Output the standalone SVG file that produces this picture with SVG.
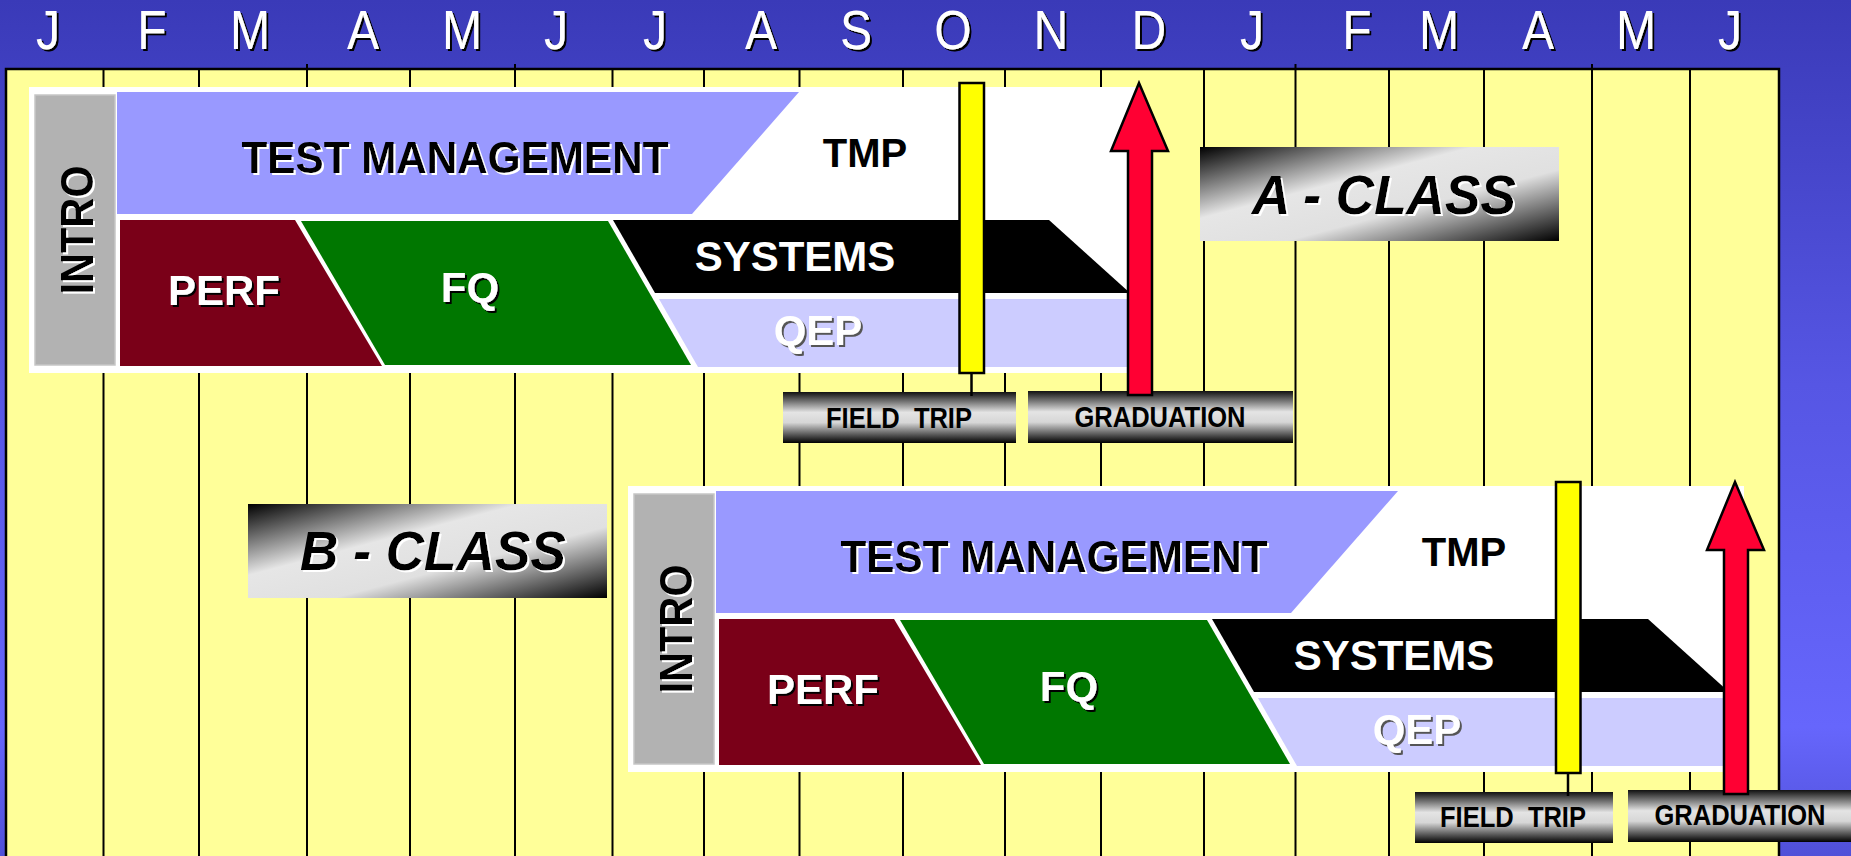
<svg xmlns="http://www.w3.org/2000/svg" width="1851" height="856" viewBox="0 0 1851 856">
  <defs>
    <linearGradient id="bg" x1="0" y1="0" x2="0" y2="1">
      <stop offset="0" stop-color="#3a3ab8"/>
      <stop offset="0.45" stop-color="#5656e4"/>
      <stop offset="0.85" stop-color="#6666fc"/>
      <stop offset="1" stop-color="#5050d8"/>
    </linearGradient>
    <!-- cylinder shading for the event tabs -->
    <linearGradient id="tab" x1="0" y1="0" x2="0" y2="1">
      <stop offset="0" stop-color="#111"/>
      <stop offset="0.4" stop-color="#e4e4e4"/>
      <stop offset="0.6" stop-color="#d6d6d6"/>
      <stop offset="1" stop-color="#000"/>
    </linearGradient>
    <!-- diagonal sheen for the class plates -->
    <linearGradient id="plate" x1="0" y1="0" x2="1" y2="1">
      <stop offset="0" stop-color="#000"/>
      <stop offset="0.38" stop-color="#e6e6e6"/>
      <stop offset="0.62" stop-color="#e0e0e0"/>
      <stop offset="1" stop-color="#000"/>
    </linearGradient>
    <filter id="shDark" x="-10%" y="-20%" width="130%" height="150%">
      <feDropShadow dx="2" dy="2" stdDeviation="0" flood-color="#000"/>
    </filter>
    <filter id="shGray" x="-10%" y="-20%" width="130%" height="150%">
      <feDropShadow dx="2" dy="2" stdDeviation="0" flood-color="#555"/>
    </filter>
    <filter id="shLight" x="-10%" y="-20%" width="130%" height="150%">
      <feDropShadow dx="2" dy="2" stdDeviation="0" flood-color="#fff"/>
    </filter>
  </defs>
  <style>
    text { font-family: "Liberation Sans", Arial, sans-serif; text-anchor: middle; }
    .month { font-size: 56px; fill: #fff; }
    .grid line { stroke: #000; stroke-width: 2; }
    .frame { fill: #fff; }
    .intro { fill: #b2b2b2; stroke: #c6c6c6; stroke-width: 1.5; }
    .tm { fill: #9999ff; }
    .perf { fill: #7a0018; }
    .fq { fill: #007700; }
    .sys { fill: #000; }
    .qep { fill: #ccccff; }
    .lbl { font-weight: bold; font-size: 42px; }
    .dark { fill: #000; }
    .light { fill: #fff; }
    .introtxt { font-weight: bold; font-size: 46px; fill: #000; }
    .bar { fill: #ffff00; stroke: #000; stroke-width: 2.5; }
    .arrow { fill: #ff0033; stroke: #000; stroke-width: 2.5; stroke-linejoin: miter; }
    .tab { fill: url(#tab); }
    .tabtxt { font-weight: bold; font-size: 29px; fill: #000; white-space: pre; }
    .plate { fill: url(#plate); }
    .platetxt { font-weight: bold; font-style: italic; font-size: 56px; fill: #000; }
    .stem { stroke: #000; stroke-width: 2.5; }
  </style>

  <!-- backdrop and calendar panel -->
  <rect x="0" y="0" width="1851" height="856" fill="url(#bg)"/>
  <rect x="6" y="69" width="1773" height="800" fill="#ffff99" stroke="#000" stroke-width="2.5"/>

  <g class="grid">
    <line x1="103.5" y1="69" x2="103.5" y2="856"/>
    <line x1="199" y1="69" x2="199" y2="856"/>
    <line x1="307" y1="64" x2="307" y2="856"/>
    <line x1="410" y1="69" x2="410" y2="856"/>
    <line x1="515" y1="64" x2="515" y2="856"/>
    <line x1="612.5" y1="69" x2="612.5" y2="856"/>
    <line x1="704" y1="69" x2="704" y2="856"/>
    <line x1="799.5" y1="69" x2="799.5" y2="856"/>
    <line x1="903" y1="69" x2="903" y2="856"/>
    <line x1="1005" y1="69" x2="1005" y2="856"/>
    <line x1="1101" y1="69" x2="1101" y2="856"/>
    <line x1="1204" y1="69" x2="1204" y2="856"/>
    <line x1="1295.5" y1="64" x2="1295.5" y2="856"/>
    <line x1="1389" y1="69" x2="1389" y2="856"/>
    <line x1="1484" y1="69" x2="1484" y2="856"/>
    <line x1="1592" y1="64" x2="1592" y2="856"/>
    <line x1="1690" y1="69" x2="1690" y2="856"/>
  </g>

  <!-- month header -->
  <g id="months" filter="url(#shDark)">
    <text class="month" transform="translate(48 49) scale(0.86 1)">J</text>
    <text class="month" transform="translate(152 49) scale(0.86 1)">F</text>
    <text class="month" transform="translate(250 49) scale(0.86 1)">M</text>
    <text class="month" transform="translate(363 49) scale(0.86 1)">A</text>
    <text class="month" transform="translate(462 49) scale(0.86 1)">M</text>
    <text class="month" transform="translate(556 49) scale(0.86 1)">J</text>
    <text class="month" transform="translate(655 49) scale(0.86 1)">J</text>
    <text class="month" transform="translate(761 49) scale(0.86 1)">A</text>
    <text class="month" transform="translate(856 49) scale(0.86 1)">S</text>
    <text class="month" transform="translate(953 49) scale(0.86 1)">O</text>
    <text class="month" transform="translate(1051 49) scale(0.86 1)">N</text>
    <text class="month" transform="translate(1149 49) scale(0.86 1)">D</text>
    <text class="month" transform="translate(1252 49) scale(0.86 1)">J</text>
    <text class="month" transform="translate(1357 49) scale(0.86 1)">F</text>
    <text class="month" transform="translate(1439 49) scale(0.86 1)">M</text>
    <text class="month" transform="translate(1538 49) scale(0.86 1)">A</text>
    <text class="month" transform="translate(1636 49) scale(0.86 1)">M</text>
    <text class="month" transform="translate(1730 49) scale(0.86 1)">J</text>
  </g>

  <!-- A class curriculum -->
  <g id="class-a">
    <g id="a-frame"><rect class="frame" x="29" y="87" width="1112" height="286"/></g>
    <g id="a-intro">
      <rect class="intro" x="35" y="95" width="80" height="270"/>
      <g filter="url(#shLight)"><text class="introtxt" transform="translate(93 230) rotate(-90) scale(0.9 1)">INTRO</text></g>
    </g>
    <g id="a-test-management">
      <polygon class="tm" points="117,92 799,92 692,214 117,214"/>
      <g filter="url(#shLight)"><text class="lbl dark" transform="translate(455 173) scale(0.96 1)" style="font-size:44px">TEST MANAGEMENT</text></g>
    </g>
    <g id="a-tmp"><text class="lbl dark" x="865" y="167" style="font-size:40px">TMP</text></g>
    <g id="a-perf">
      <polygon class="perf" points="120,220 295,220 382,366 120,366"/>
      <g filter="url(#shDark)"><text class="lbl light" x="224" y="305">PERF</text></g>
    </g>
    <g id="a-fq">
      <polygon class="fq" points="301,221 608,221 691,365 385,365"/>
      <g filter="url(#shDark)"><text class="lbl light" x="470" y="302">FQ</text></g>
    </g>
    <g id="a-systems">
      <polygon class="sys" points="613,220 1049,220 1130,293 655,293"/>
      <text class="lbl light" x="795" y="271">SYSTEMS</text>
    </g>
    <g id="a-qep">
      <polygon class="qep" points="659,299 1130,299 1130,367 698,367"/>
      <g filter="url(#shGray)"><text class="lbl light" x="818" y="345">QEP</text></g>
    </g>
    <g id="a-class-plate">
      <rect class="plate" x="1200" y="147" width="359" height="94"/>
      <g filter="url(#shLight)"><text class="platetxt" transform="translate(1384 214) scale(0.95 1)">A - CLASS</text></g>
    </g>
    <g id="a-field-trip-bar"><rect class="bar" x="959.5" y="83" width="24.5" height="290"/></g>
    <g id="a-field-trip">
      <rect class="tab" x="783" y="392" width="233" height="51"/>
      <text class="tabtxt" transform="translate(899 428) scale(0.88 1)">FIELD  TRIP</text>
    </g>
    <g id="a-graduation">
      <rect class="tab" x="1028" y="391" width="265" height="52"/>
      <text class="tabtxt" transform="translate(1160 427) scale(0.88 1)">GRADUATION</text>
    </g>
  </g>

  <!-- B class curriculum: same track layout, six months later -->
  <g id="class-b">
    <g transform="translate(599 399)">
      <g id="b-frame"><rect class="frame" x="29" y="87" width="1116" height="286"/></g>
      <g id="b-intro">
        <rect class="intro" x="35" y="95" width="80" height="270"/>
        <g filter="url(#shLight)"><text class="introtxt" transform="translate(93 230) rotate(-90) scale(0.9 1)">INTRO</text></g>
      </g>
      <g id="b-test-management">
        <polygon class="tm" points="117,92 799,92 692,214 117,214"/>
        <g filter="url(#shLight)"><text class="lbl dark" transform="translate(455 173) scale(0.96 1)" style="font-size:44px">TEST MANAGEMENT</text></g>
      </g>
      <g id="b-tmp"><text class="lbl dark" x="865" y="167" style="font-size:40px">TMP</text></g>
      <g id="b-perf">
        <polygon class="perf" points="120,220 295,220 382,366 120,366"/>
        <g filter="url(#shDark)"><text class="lbl light" x="224" y="305">PERF</text></g>
      </g>
      <g id="b-fq">
        <polygon class="fq" points="301,221 608,221 691,365 385,365"/>
        <g filter="url(#shDark)"><text class="lbl light" x="470" y="302">FQ</text></g>
      </g>
      <g id="b-systems">
        <polygon class="sys" points="613,220 1049,220 1130,293 655,293"/>
        <text class="lbl light" x="795" y="271">SYSTEMS</text>
      </g>
      <g id="b-qep">
        <polygon class="qep" points="659,299 1130,299 1130,367 698,367"/>
        <g filter="url(#shGray)"><text class="lbl light" x="818" y="345">QEP</text></g>
      </g>
    </g>
    <g id="b-class-plate">
      <rect class="plate" x="248" y="504" width="359" height="94"/>
      <g filter="url(#shLight)"><text class="platetxt" transform="translate(433 570) scale(0.95 1)">B - CLASS</text></g>
    </g>
    <g id="b-field-trip-bar"><rect class="bar" x="1556" y="482" width="24.5" height="291"/></g>
    <g id="b-field-trip">
      <rect class="tab" x="1415" y="792" width="198" height="51"/>
      <text class="tabtxt" transform="translate(1513 827) scale(0.88 1)">FIELD  TRIP</text>
    </g>
    <g id="b-graduation">
      <rect class="tab" x="1628" y="790" width="230" height="52"/>
      <text class="tabtxt" transform="translate(1740 825) scale(0.88 1)">GRADUATION</text>
    </g>
  </g>

  <!-- milestone connectors -->
  <g id="connectors">
    <line class="stem" x1="971.5" y1="373" x2="971.5" y2="396"/>
    <line class="stem" x1="1568" y1="773" x2="1568" y2="796"/>
    <g id="a-graduation-arrow">
      <polygon class="arrow" points="1139,83 1168,151 1152,151 1152,395 1128,395 1128,151 1111,151"/>
    </g>
    <g id="b-graduation-arrow" transform="translate(596 399)">
      <polygon class="arrow" points="1139,83 1168,151 1152,151 1152,395 1128,395 1128,151 1111,151"/>
    </g>
  </g>
</svg>
